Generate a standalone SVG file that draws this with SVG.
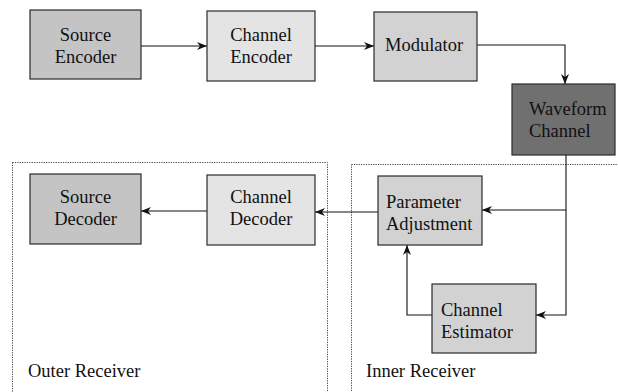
<svg xmlns="http://www.w3.org/2000/svg" width="618" height="392" viewBox="0 0 618 392">
<style>
.box{stroke:#2a2a2a;stroke-width:1.2}
.l{fill:none;stroke:#111;stroke-width:1.1}
.grp{fill:none;stroke:#444;stroke-width:1;stroke-dasharray:1.2,1.2}
</style>
<defs>
<marker id="ah" viewBox="0 0 10 8" refX="10" refY="4" markerWidth="10" markerHeight="8" markerUnits="userSpaceOnUse" orient="auto">
<path d="M0,0 L10,4 L0,8 L3,4 z" fill="#111"/>
</marker>
</defs>
<rect width="618" height="392" fill="#fff"/>
<g id="outer-receiver">
<rect class="grp" x="12.5" y="162.5" width="315" height="240"/>
<text x="28" y="377" font-family="Liberation Serif" font-size="18.5" fill="#111">Outer Receiver</text>
</g>
<g id="inner-receiver">
<rect class="grp" x="351.5" y="164.5" width="280" height="240"/>
<text x="366" y="377" font-family="Liberation Serif" font-size="18.5" fill="#111">Inner Receiver</text>
</g>
<g id="connectors">
<path class="l" d="M141,46 H207" marker-end="url(#ah)"/>
<path class="l" d="M315,46 H374" marker-end="url(#ah)"/>
<path class="l" d="M477,45 H565 V84" marker-end="url(#ah)"/>
<path class="l" d="M566,155 V315 H536" marker-end="url(#ah)"/>
<path class="l" d="M566,210 H482" marker-end="url(#ah)"/>
<path class="l" d="M432,315 H407 V245" marker-end="url(#ah)"/>
<path class="l" d="M378,212 H315" marker-end="url(#ah)"/>
<path class="l" d="M207,211 H141" marker-end="url(#ah)"/>
</g>
<g id="source-encoder">
<rect class="box" x="30" y="10" width="111" height="69" fill="#c4c4c4"/>
<text x="85.5" y="41" text-anchor="middle" font-family="Liberation Serif" font-size="18.5" fill="#111">Source</text>
<text x="85.5" y="63" text-anchor="middle" font-family="Liberation Serif" font-size="18.5" fill="#111">Encoder</text>
</g>
<g id="channel-encoder">
<rect class="box" x="207" y="11" width="108" height="70" fill="#e4e4e4"/>
<text x="261" y="41" text-anchor="middle" font-family="Liberation Serif" font-size="18.5" fill="#111">Channel</text>
<text x="261" y="63" text-anchor="middle" font-family="Liberation Serif" font-size="18.5" fill="#111">Encoder</text>
</g>
<g id="modulator">
<rect class="box" x="374" y="12" width="103" height="69" fill="#d2d2d2"/>
<text x="424" y="51" text-anchor="middle" font-family="Liberation Serif" font-size="18.5" fill="#111">Modulator</text>
</g>
<g id="waveform-channel">
<rect class="box" x="512" y="84" width="103" height="71" fill="#707070"/>
<text x="529" y="115" font-family="Liberation Serif" font-size="18.5" fill="#111">Waveform</text>
<text x="529" y="137" font-family="Liberation Serif" font-size="18.5" fill="#111">Channel</text>
</g>
<g id="parameter-adjustment">
<rect class="box" x="378" y="176" width="104" height="69" fill="#d2d2d2"/>
<text x="386" y="208" font-family="Liberation Serif" font-size="18.5" fill="#111">Parameter</text>
<text x="386" y="230" font-family="Liberation Serif" font-size="18.5" fill="#111">Adjustment</text>
</g>
<g id="channel-estimator">
<rect class="box" x="432" y="284" width="104" height="69" fill="#d2d2d2"/>
<text x="441" y="316" font-family="Liberation Serif" font-size="18.5" fill="#111">Channel</text>
<text x="441" y="338" font-family="Liberation Serif" font-size="18.5" fill="#111">Estimator</text>
</g>
<g id="channel-decoder">
<rect class="box" x="207" y="175" width="108" height="70" fill="#e4e4e4"/>
<text x="261" y="203" text-anchor="middle" font-family="Liberation Serif" font-size="18.5" fill="#111">Channel</text>
<text x="261" y="225" text-anchor="middle" font-family="Liberation Serif" font-size="18.5" fill="#111">Decoder</text>
</g>
<g id="source-decoder">
<rect class="box" x="30" y="174" width="111" height="70" fill="#c4c4c4"/>
<text x="85.5" y="203" text-anchor="middle" font-family="Liberation Serif" font-size="18.5" fill="#111">Source</text>
<text x="85.5" y="225" text-anchor="middle" font-family="Liberation Serif" font-size="18.5" fill="#111">Decoder</text>
</g>
</svg>
